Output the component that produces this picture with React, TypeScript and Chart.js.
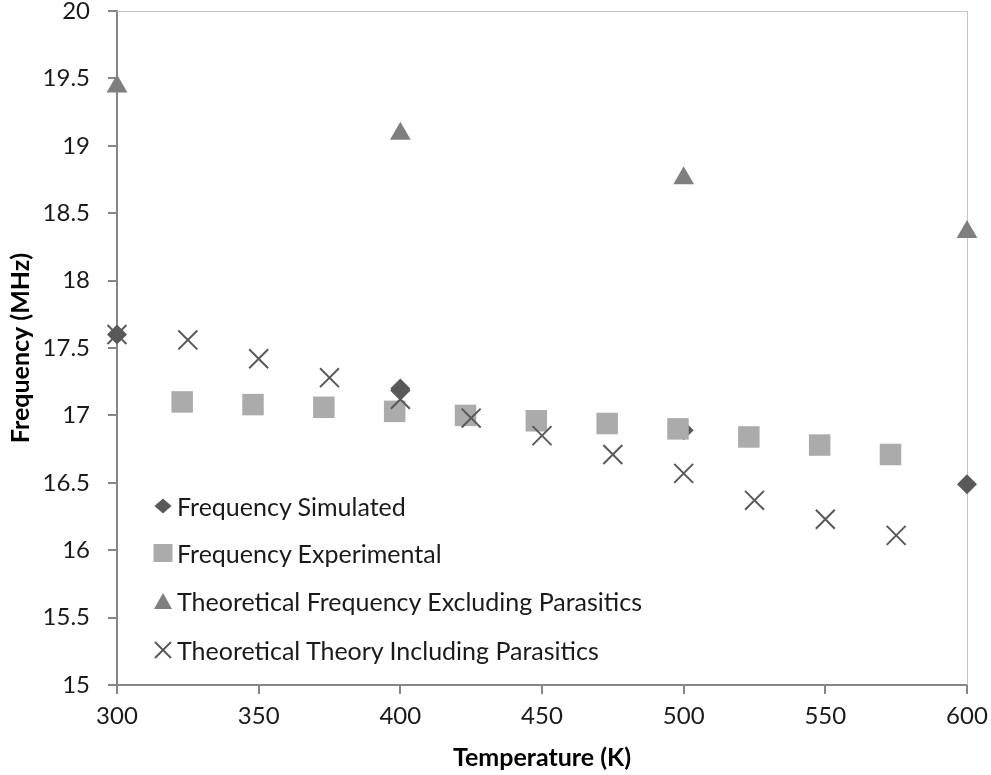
import React, { useEffect, useRef } from "react";
import { Chart, registerables } from "chart.js";

Chart.register(...registerables);

const simTemps = [300, 400, 500, 600];
const simFreq = [17.6, 17.2, 16.89, 16.49];

const expTemps = [323, 348, 373, 398, 423, 448, 473, 498, 523, 548, 573];
const expFreq = [17.1, 17.08, 17.06, 17.03, 17.0, 16.96, 16.94, 16.9, 16.84, 16.78, 16.71];

const exclTemps = [300, 400, 500, 600];
const exclFreq = [19.44, 19.09, 18.76, 18.36];

const inclTemps = [300, 325, 350, 375, 400, 425, 450, 475, 500, 525, 550, 575];
const inclFreq = [17.6, 17.56, 17.42, 17.28, 17.12, 16.98, 16.85, 16.71, 16.57, 16.37, 16.23, 16.11];

const seriesNames = [
  "Frequency Simulated",
  "Frequency Experimental",
  "Theoretical Frequency Excluding Parasitics",
  "Theoretical Theory Including Parasitics",
];

const xTitle = "Temperature (K)";
const yTitle = "Frequency (MHz)";

const FONT = "Lato, 'Open Sans', sans-serif";
const AXIS = "#868686";
const C_SIM = "#595959";
const C_EXP = "#ABABAB";
const C_EXCL = "#7F7F7F";
const C_INCL = "#595959";

const toPts = (xs: number[], ys: number[]) => xs.map((x, i) => ({ x, y: ys[i] }));

const frameLines = {
  id: "frameLines",
  beforeDatasetsDraw(chart: any) {
    const { ctx, chartArea } = chart;
    ctx.save();
    ctx.strokeStyle = "#C4C4C4";
    ctx.lineWidth = 1;
    ctx.beginPath();
    ctx.moveTo(chartArea.left, Math.round(chartArea.top) + 0.5);
    ctx.lineTo(Math.round(chartArea.right) + 0.5, Math.round(chartArea.top) + 0.5);
    ctx.lineTo(Math.round(chartArea.right) + 0.5, chartArea.bottom);
    ctx.stroke();
    ctx.restore();
  },
};

function LegendMarker({ kind }: { kind: number }) {
  if (kind === 0)
    return (
      <svg width="22" height="22" viewBox="0 0 22 22">
        <polygon points="2.5,11 11,3.5 19.5,11 11,18.5" fill={C_SIM} />
      </svg>
    );
  if (kind === 1)
    return (
      <svg width="22" height="22" viewBox="0 0 22 22">
        <rect x="1.5" y="2" width="19" height="18" fill={C_EXP} />
      </svg>
    );
  if (kind === 2)
    return (
      <svg width="22" height="22" viewBox="0 0 22 22">
        <polygon points="2,19 11,3 20,19" fill={C_EXCL} />
      </svg>
    );
  return (
    <svg width="22" height="22" viewBox="0 0 22 22">
      <path d="M3,3 L19,19 M19,3 L3,19" stroke={C_INCL} strokeWidth="2" fill="none" />
    </svg>
  );
}

const legendRowsY = [506, 553, 601, 650];

export default function App() {
  const ref = useRef<HTMLCanvasElement | null>(null);

  useEffect(() => {
    if (!ref.current) return;
    const chart = new Chart(ref.current, {
      type: "scatter",
      data: {
        datasets: [
          {
            label: seriesNames[0],
            data: toPts(simTemps, simFreq),
            pointStyle: "rectRot",
            pointRadius: 10,
            backgroundColor: C_SIM,
            borderColor: C_SIM,
            borderWidth: 0,
            clip: false,
            order: 4,
          },
          {
            label: seriesNames[1],
            data: toPts(expTemps, expFreq),
            pointStyle: "rect",
            pointRadius: 15.2,
            backgroundColor: C_EXP,
            borderColor: C_EXP,
            borderWidth: 0,
            clip: false,
            order: 3,
          },
          {
            label: seriesNames[2],
            data: toPts(exclTemps, exclFreq),
            pointStyle: "triangle",
            pointRadius: 12,
            backgroundColor: C_EXCL,
            borderColor: C_EXCL,
            borderWidth: 0,
            clip: false,
            order: 2,
          },
          {
            label: seriesNames[3],
            data: toPts(inclTemps, inclFreq),
            pointStyle: "crossRot",
            pointRadius: 13.4,
            backgroundColor: C_INCL,
            borderColor: C_INCL,
            borderWidth: 2,
            clip: false,
            order: 1,
          },
        ],
      },
      options: {
        animation: false,
        responsive: false,
        devicePixelRatio: 1,
        layout: { autoPadding: false, padding: { top: 11, right: 24, left: 0, bottom: 0 } },
        plugins: {
          legend: { display: false },
          tooltip: { enabled: false },
        },
        scales: {
          x: {
            type: "linear",
            min: 300,
            max: 600,
            afterFit: (s: any) => {
              s.height = 90;
              s.paddingLeft = 0;
              s.paddingRight = 0;
            },
            ticks: {
              stepSize: 50,
              maxRotation: 0,
              autoSkip: false,
              padding: 8,
              color: "#1a1a1a",
              font: { family: FONT, size: 24 },
              callback: (v: any) => String(v),
            },
            grid: {
              display: true,
              drawOnChartArea: false,
              drawTicks: true,
              tickLength: 9,
              tickWidth: 2,
              tickColor: AXIS,
              lineWidth: 2,
              color: AXIS,
            },
            border: { display: true, color: AXIS, width: 2 },
            title: {
              display: true,
              text: xTitle,
              color: "#000",
              font: { family: FONT, size: 25, weight: "bold" },
              padding: { top: 0, bottom: 2 },
            },
          },
          y: {
            type: "linear",
            min: 15,
            max: 20,
            afterFit: (s: any) => {
              s.width = 117;
              s.paddingTop = 0;
              s.paddingBottom = 0;
            },
            ticks: {
              stepSize: 0.5,
              autoSkip: false,
              padding: 18,
              color: "#1a1a1a",
              font: { family: FONT, size: 24 },
              callback: (v: any) => String(v),
            },
            grid: {
              display: true,
              drawOnChartArea: false,
              drawTicks: true,
              tickLength: 9,
              tickWidth: 2,
              tickColor: AXIS,
              lineWidth: 2,
              color: AXIS,
            },
            border: { display: true, color: AXIS, width: 2 },
            title: {
              display: true,
              text: yTitle,
              color: "#000",
              font: { family: FONT, size: 25, weight: "bold" },
              padding: { top: 6, bottom: 0 },
            },
          },
        },
      },
      plugins: [frameLines],
    } as any);
    return () => chart.destroy();
  }, []);

  return (
    <div
      style={{
        position: "absolute",
        left: 0,
        top: 0,
        width: 991,
        height: 775,
        background: "#fff",
        overflow: "hidden",
      }}
    >
      <canvas ref={ref} width={991} height={775} style={{ display: "block" }} />
      {seriesNames.map((name, i) => (
        <div
          key={name}
          style={{
            position: "absolute",
            left: 152,
            top: legendRowsY[i] - 15,
            height: 30,
            display: "flex",
            alignItems: "center",
            fontFamily: FONT,
            fontSize: 25,
            color: "#1a1a1a",
            whiteSpace: "nowrap",
          }}
        >
          <LegendMarker kind={i} />
          <span style={{ marginLeft: 3, lineHeight: "30px" }}>{name}</span>
        </div>
      ))}
    </div>
  );
}
